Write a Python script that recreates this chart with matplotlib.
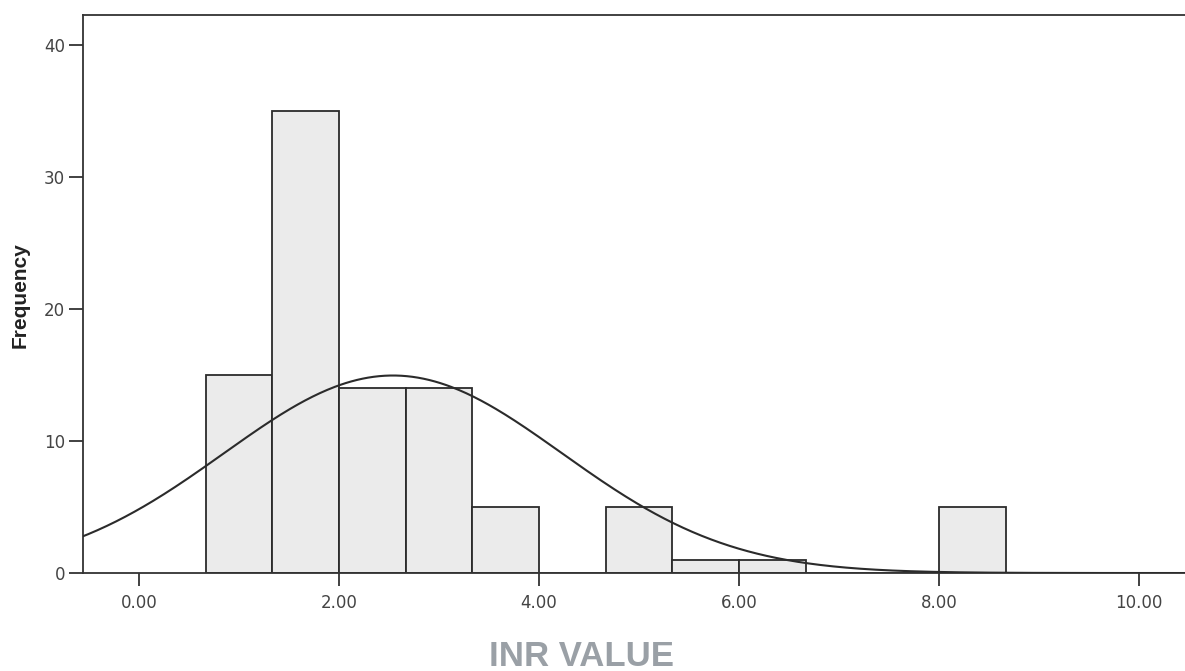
import numpy as np
import matplotlib
matplotlib.use("Agg")
import matplotlib.pyplot as plt

# 直方图数据（INR 值，组距 2/3）
bin_edges = [0.6667, 1.3333, 2.0, 2.6667, 3.3333, 4.0, 4.6667, 5.3333, 6.0, 6.6667,
             7.3333, 8.0, 8.6667]
counts = [15, 35, 14, 14, 5, 0, 5, 1, 1, 0, 0, 5]
# 正态曲线参数
mean_inr, sd_inr, n_total = 2.54, 1.69, 95

x_ticks = [0, 2, 4, 6, 8, 10]
x_labels = ["0.00", "2.00", "4.00", "6.00", "8.00", "10.00"]
y_ticks = [0, 10, 20, 30, 40]

fig = plt.figure(figsize=(11.85, 6.71), dpi=100)
ax = fig.add_axes([0.070, 0.146, 0.930, 0.831])

edges = np.array(bin_edges)
widths = np.diff(edges)
ax.bar(edges[:-1], counts, width=widths, align="edge",
       color="#ebebeb", edgecolor="#2b2b2b", linewidth=1.3, zorder=2)

xs = np.linspace(-0.6, 10.5, 600)
bw = widths[0]
ys = n_total * bw / (sd_inr * np.sqrt(2 * np.pi)) * np.exp(-(xs - mean_inr) ** 2 / (2 * sd_inr ** 2))
ax.plot(xs, ys, color="#2b2b2b", linewidth=1.5, zorder=3)

ax.set_xlim(-0.56, 10.46)
ax.set_ylim(0, 42.2)
ax.set_xticks(x_ticks)
ax.set_xticklabels(x_labels)
ax.set_yticks(y_ticks)

for s in ["left", "top", "bottom"]:
    ax.spines[s].set_color("#333333")
    ax.spines[s].set_linewidth(1.3)
ax.spines["right"].set_visible(False)

ax.tick_params(axis="both", direction="out", colors="#333333", labelcolor="#444444",
               labelsize=12, width=1.3)
ax.tick_params(axis="y", length=10, pad=3)
ax.tick_params(axis="x", length=9, pad=6)

fig.text(0.017, 0.56, "Frequency", rotation=90, ha="center", va="center",
         fontsize=15, fontweight="bold", family="Liberation Sans",
         color="#222222")
fig.text(0.491, 0.022, "INR VALUE", ha="center", va="center",
         fontsize=25, fontweight="bold", family="Liberation Sans", color="#9aa0a6")

fig.savefig("out.png", dpi=100)
